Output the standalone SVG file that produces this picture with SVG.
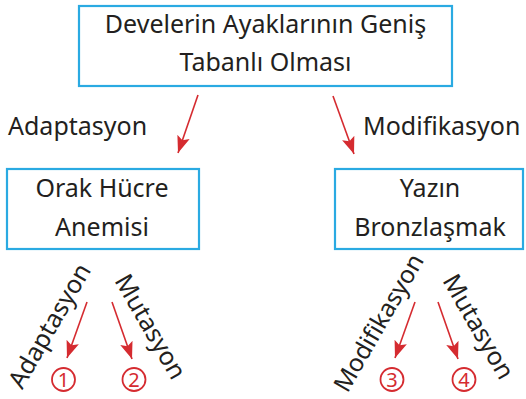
<svg xmlns="http://www.w3.org/2000/svg" width="526" height="399" viewBox="0 0 526 399">
<defs>
<marker id="ah" markerUnits="userSpaceOnUse" markerWidth="18" markerHeight="14" viewBox="0 0 18 14" refX="17" refY="7" orient="auto">
<path d="M0,0.5 L17,7 L0,13.5 L3.5,7 Z" fill="#d52b30"/>
</marker>
</defs>
<style>
.box{fill:#fff;stroke:#2aaae2;stroke-width:2.2}
.t{font-family:"Noto Sans","Open Sans",sans-serif;font-size:25px;fill:#231f20;text-anchor:middle}
.l{font-family:"Noto Sans","Open Sans",sans-serif;font-size:25px;fill:#231f20}
.c{fill:none;stroke:#d52b30;stroke-width:1.8}
.n{font-family:"Noto Sans","Open Sans",sans-serif;font-size:20px;fill:#d52b30;text-anchor:middle}
.a{stroke:#d52b30;stroke-width:1.6;fill:none;marker-end:url(#ah)}
</style>
<g id="root">
<rect class="box" x="79" y="6" width="373" height="80"/>
<text class="t" x="265.5" y="33">Develerin Ayaklarının Geniş</text>
<text class="t" x="265.5" y="71">Tabanlı Olması</text>
</g>
<g id="orak">
<rect class="box" x="7" y="169" width="192" height="80"/>
<text class="t" x="102" y="197">Orak Hücre</text>
<text class="t" x="102" y="236">Anemisi</text>
</g>
<g id="yazin">
<rect class="box" x="335" y="169" width="188" height="80"/>
<text class="t" x="430" y="197">Yazın</text>
<text class="t" x="430" y="236">Bronzlaşmak</text>
</g>
<g id="n1"><circle class="c" cx="63.5" cy="379.5" r="11.5"/><text class="n" x="63.5" y="386.5">1</text></g>
<g id="n2"><circle class="c" cx="134" cy="379.5" r="11.5"/><text class="n" x="134" y="386.5">2</text></g>
<g id="n3"><circle class="c" cx="392" cy="379.5" r="11.5"/><text class="n" x="392" y="386.5">3</text></g>
<g id="n4"><circle class="c" cx="464" cy="379.5" r="11.5"/><text class="n" x="464" y="386.5">4</text></g>
<g id="connectors">
<line class="a" x1="198" y1="95" x2="178" y2="153"/>
<line class="a" x1="333" y1="96" x2="354" y2="154"/>
<line class="a" x1="87" y1="302" x2="67" y2="358"/>
<line class="a" x1="112" y1="302" x2="132" y2="359"/>
<line class="a" x1="415" y1="302" x2="395" y2="358"/>
<line class="a" x1="438" y1="302" x2="458" y2="359"/>
</g>
<g id="labels">
<text class="l" x="8" y="135">Adaptasyon</text>
<text class="l" x="363" y="135">Modifikasyon</text>
<text class="t" transform="translate(57,330) rotate(-60)">Adaptasyon</text>
<text class="t" transform="translate(143,331) rotate(60)">Mutasyon</text>
<text class="t" style="font-size:24.5px" transform="translate(386,327) rotate(-60)">Modifikasyon</text>
<text class="t" transform="translate(471,331) rotate(60)">Mutasyon</text>
</g>
</svg>
